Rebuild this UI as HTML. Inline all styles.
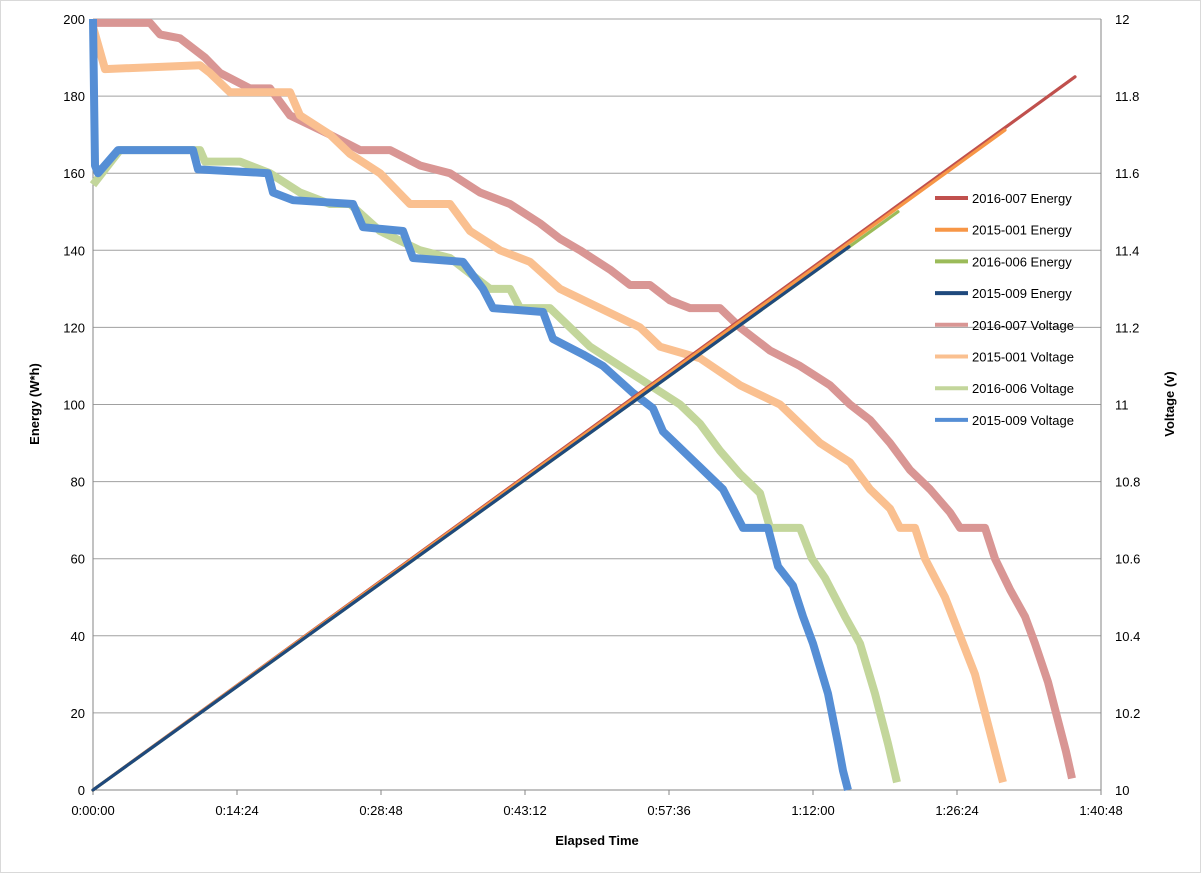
<!DOCTYPE html>
<html><head><meta charset="utf-8"><style>
body{margin:0;background:#fff;font-family:"Liberation Sans",sans-serif}
#wrap{position:relative;width:1201px;height:873px}
</style></head><body>
<div id="wrap">
<svg id="svg" width="1201" height="873" xmlns="http://www.w3.org/2000/svg">
<rect x="0.5" y="0.5" width="1200" height="872" fill="#fff" stroke="#d9d9d9"/>
</svg>
</div>
<script>
// data (minutes, Wh / V)
const energyNames=["2016-007 Energy","2015-001 Energy","2016-006 Energy","2015-009 Energy"];
const energyEndMin=[98.2,91.2,80.5,75.6];
const energyEndWh=[185,171.2,150,140.9];
const voltNames=["2016-007 Voltage","2015-001 Voltage","2016-006 Voltage","2015-009 Voltage"];
const voltRed=[[0,11.99],[5.7,11.99],[6.7,11.96],[8.7,11.95],[11.2,11.90],[12.7,11.86],[15.7,11.82],[17.7,11.82],[19.7,11.75],[23.7,11.70],[26.7,11.66],[29.7,11.66],[32.7,11.62],[35.7,11.60],[38.7,11.55],[41.7,11.52],[44.7,11.47],[46.7,11.43],[48.7,11.40],[51.7,11.35],[53.7,11.31],[55.7,11.31],[57.7,11.27],[59.7,11.25],[62.7,11.25],[64.7,11.20],[67.7,11.14],[70.7,11.10],[73.7,11.05],[75.7,11.00],[77.7,10.96],[79.7,10.90],[81.7,10.83],[83.7,10.78],[85.7,10.72],[86.7,10.68],[89.2,10.68],[90.2,10.60],[91.7,10.52],[93.2,10.45],[94.2,10.38],[95.5,10.28],[96.5,10.18],[97.3,10.10],[97.9,10.03]];
const voltOrange=[[0,11.98],[1.2,11.87],[10.7,11.88],[11.7,11.86],[13.7,11.81],[19.7,11.81],[20.7,11.75],[23.7,11.70],[25.7,11.65],[28.7,11.60],[31.7,11.52],[35.7,11.52],[37.7,11.45],[40.7,11.40],[43.7,11.37],[46.7,11.30],[50.7,11.25],[54.7,11.20],[56.7,11.15],[60.7,11.12],[64.7,11.05],[68.7,11.00],[70.7,10.95],[72.7,10.90],[75.7,10.85],[77.7,10.78],[79.7,10.73],[80.7,10.68],[82.2,10.68],[83.2,10.60],[85.2,10.50],[86.7,10.40],[88.2,10.30],[89.2,10.20],[90.2,10.10],[91.0,10.02]];
const voltGreen=[[0,11.57],[2.7,11.66],[10.7,11.66],[11.2,11.63],[14.7,11.63],[17.7,11.60],[20.7,11.55],[23.7,11.52],[25.7,11.52],[28.7,11.45],[32.7,11.40],[35.7,11.38],[39.7,11.30],[41.7,11.30],[42.7,11.25],[45.7,11.25],[47.7,11.20],[49.7,11.15],[52.7,11.10],[55.7,11.05],[58.7,11.00],[60.7,10.95],[62.7,10.88],[64.7,10.82],[66.7,10.77],[67.7,10.68],[70.7,10.68],[71.9,10.60],[73.2,10.55],[75.2,10.45],[76.7,10.38],[78.2,10.25],[79.5,10.12],[80.4,10.02]];
const voltBlue=[[0,12.0],[0.2,11.62],[0.5,11.60],[2.5,11.66],[10,11.66],[10.5,11.61],[17.5,11.60],[18,11.55],[20,11.53],[26,11.52],[27,11.46],[31,11.45],[32,11.38],[37,11.37],[39,11.30],[40,11.25],[45,11.24],[46,11.17],[49,11.13],[51,11.10],[54,11.03],[56,10.99],[57,10.93],[59,10.88],[61,10.83],[63,10.78],[64,10.73],[65,10.68],[67.5,10.68],[68.5,10.58],[70,10.53],[71,10.45],[72,10.38],[73.5,10.25],[74.5,10.12],[75,10.05],[75.5,10.0]];
const xTickLabels=["0:00:00","0:14:24","0:28:48","0:43:12","0:57:36","1:12:00","1:26:24","1:40:48"];
const yLeftTicks=[0,20,40,60,80,100,120,140,160,180,200];
const yRightTicks=["10","10.2","10.4","10.6","10.8","11","11.2","11.4","11.6","11.8","12"];

const L=93,R=1101,T=19,B=790,XMAX=100.8;
const sx=m=>L+(R-L)*m/XMAX;
const sy=e=>B-(B-T)*e/200;
const sv=v=>B-(B-T)*(v-10)/2;
const svg=document.getElementById('svg');
const NS="http://www.w3.org/2000/svg";
function mk(tag,attrs,txt){const e=document.createElementNS(NS,tag);for(const k in attrs)e.setAttribute(k,attrs[k]);if(txt!==undefined)e.textContent=txt;svg.appendChild(e);return e;}
yLeftTicks.forEach((t,i)=>{
  const g=mk('line',{x1:L,x2:R,y1:sy(t),y2:sy(t),stroke:i==0?'#868686':'#a0a0a0','stroke-width':1});
  
  
  const a=mk('text',{x:L-8,y:sy(t)+5,'text-anchor':'end','font-size':13,fill:'#000'},String(t));
  
  
  const b=mk('text',{x:R+14,y:sv(10+i*0.2)+5,'font-size':13,fill:'#000'},yRightTicks[i]);
  
  
});
[L,R].forEach(x=>{const a=mk('line',{x1:x,x2:x,y1:T,y2:B,stroke:'#868686'});
  
  });
xTickLabels.forEach((t,i)=>{const m=i*14.4;
  const tk=mk('line',{x1:sx(m),x2:sx(m),y1:B,y2:B+5,stroke:'#868686'});
  
  
  const a=mk('text',{x:sx(m),y:B+25,'text-anchor':'middle','font-size':13},t);
  
  });
const vCols=['#d99694','#fac090','#c3d69b','#558ed5'];
const eCols=['#c0504d','#f79646','#9bbb59','#1f497d'];
[voltRed,voltOrange,voltGreen,voltBlue].forEach((d,i)=>{
  const p=mk('polyline',{points:d.map(q=>sx(q[0])+','+sv(q[1])).join(' '),fill:'none',stroke:vCols[i],'stroke-width':8,'stroke-linejoin':'round'});
  
  
});
energyEndMin.forEach((m,i)=>{
  const p=mk('line',{x1:sx(0),y1:sy(0),x2:sx(m),y2:sy(energyEndWh[i]),stroke:eCols[i],'stroke-width':3.2,'stroke-linecap':'round'});
  
  
});
const names=energyNames.concat(voltNames),cols=eCols.concat(vCols);
names.forEach((n,i)=>{const y=198+i*31.7;
  const a=mk('line',{x1:935,x2:968,y1:y,y2:y,stroke:cols[i],'stroke-width':4});
  
  
  const b=mk('text',{x:972,y:y+5,'font-size':13},n);
  
  });
const t1=mk('text',{x:597,y:845,'text-anchor':'middle','font-size':13,'font-weight':'bold'},'Elapsed Time');


const t2=mk('text',{x:0,y:0,'text-anchor':'middle','font-size':13,'font-weight':'bold',transform:'translate(39,404) rotate(-90)'},'Energy (W*h)');


const t3=mk('text',{x:0,y:0,'text-anchor':'middle','font-size':13,'font-weight':'bold',transform:'translate(1174,404) rotate(-90)'},'Voltage (v)');


</script>
</body></html>
